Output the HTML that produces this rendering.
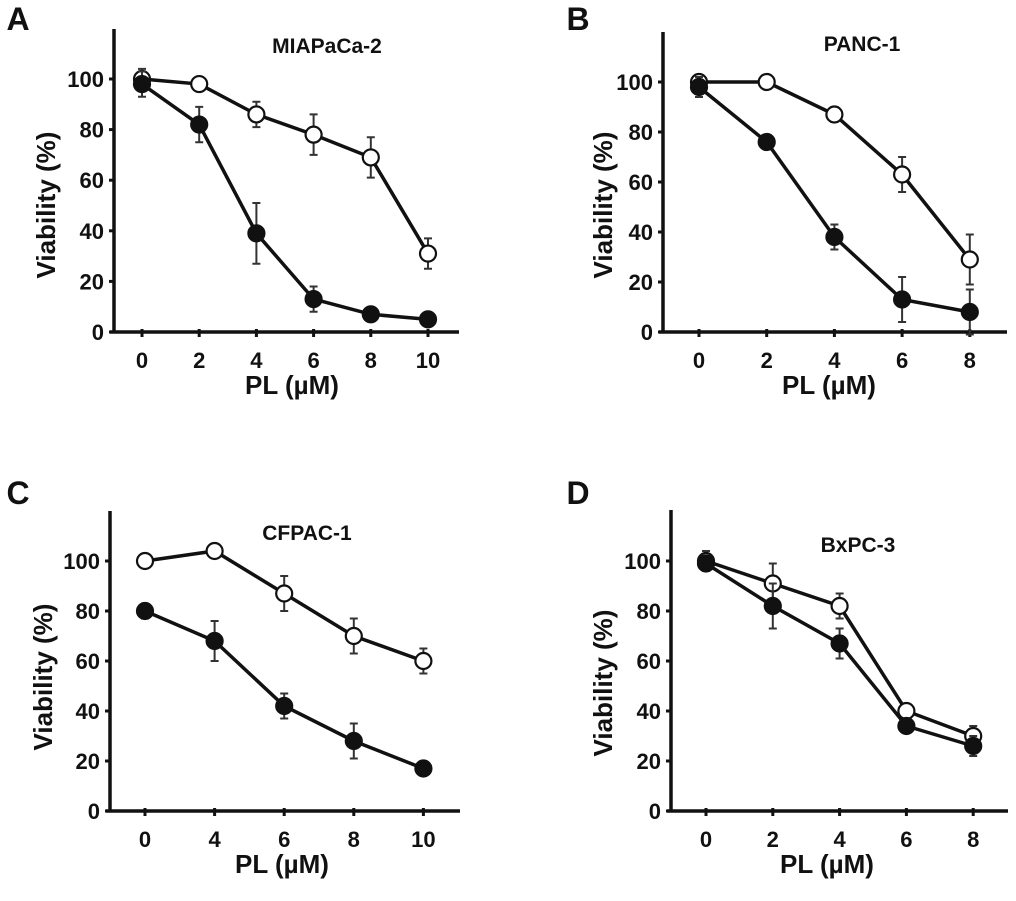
<!DOCTYPE html>
<html><head><meta charset="utf-8"><style>
body{margin:0;background:#fff;}
svg text{font-family:"Liberation Sans",Arial,sans-serif;font-weight:bold;fill:#111;}
</style></head><body>
<svg id="fig" width="1016" height="896" viewBox="0 0 1016 896" xmlns="http://www.w3.org/2000/svg"></svg>
<script>
// Panel A data
const catsA = ["0","2","4","6","8","10"];
const filledA = [98,82,39,13,7,5];
const filledErrA = [5,7,12,5,1,1];
const openA = [100,98,86,78,69,31];
const openErrA = [4,1,5,8,8,6];
// Panel B data
const catsB = ["0","2","4","6","8"];
const filledB = [98,76,38,13,8];
const filledErrB = [4,2,5,9,9];
const openB = [100,100,87,63,29];
const openErrB = [2,1,3,7,10];
// Panel C data
const catsC = ["0","4","6","8","10"];
const filledC = [80,68,42,28,17];
const filledErrC = [3,8,5,7,1];
const openC = [100,104,87,70,60];
const openErrC = [1,1,7,7,5];
// Panel D data
const catsD = ["0","2","4","6","8"];
const filledD = [99,82,67,34,26];
const filledErrD = [3,9,6,1,4];
const openD = [100,91,82,40,30];
const openErrD = [4,8,5,1,4];
const yTicks = [0,20,40,60,80,100];

const NS = "http://www.w3.org/2000/svg";
const svg = document.getElementById("fig");
function mk(tag, attrs, parent){
  const e = document.createElementNS(NS, tag);
  for (const k in attrs) e.setAttribute(k, attrs[k]);
  (parent||svg).appendChild(e);
  return e;
}
function panel(p){
  const g = mk("g", {});
  
  
  const yS = v => p.y0 - (p.y0 - p.y100) * v / 100;
  const xS = i => p.x0 + i * p.dx;
  const lab = mk("text", {x:p.lx, y:p.ly, "font-size":32, "text-anchor":"middle"}, g); lab.textContent = p.letter;
  
  
  const ya = mk("line", {x1:p.ax, y1:p.top, x2:p.ax, y2:p.y0, stroke:"#111","stroke-width":3.5}, g);
  
  
  const xa = mk("line", {x1:p.ax-4, y1:p.y0, x2:p.right, y2:p.y0, stroke:"#111","stroke-width":3.5}, g);
  
  
  yTicks.forEach(v => {
    mk("line", {x1:p.ax-5, y1:yS(v), x2:p.ax, y2:yS(v), stroke:"#111","stroke-width":3}, g);
    const t = mk("text", {x:p.ax-10, y:yS(v)+8, "font-size":22, "text-anchor":"end"}, g); t.textContent = v;
    
    
  });
  p.cats.forEach((c,i) => {
    mk("line", {x1:xS(i), y1:p.y0-3, x2:xS(i), y2:p.y0+5, stroke:"#111","stroke-width":3}, g);
    const t = mk("text", {x:xS(i), y:p.y0+36, "font-size":22, "text-anchor":"middle"}, g); t.textContent = c;
    
    
  });
  const tt = mk("text", {x:p.tx, y:p.ty, "font-size":21, "text-anchor":"middle"}, g); tt.textContent = p.title;
  
  
  const xt = mk("text", {x:p.xtx, y:p.y0+62, "font-size":26, "text-anchor":"middle"}, g); xt.textContent = "PL (\u00b5M)";
  
  
  const yt = mk("text", {x:0, y:0, "font-size":26, "text-anchor":"middle", transform:`translate(${p.ytx},${p.yty}) rotate(-90)`}, g); yt.textContent = "Viability (%)";
  
  
  [[p.open,p.openErr,"#fff","open"],[p.filled,p.filledErr,"#111","filled"]].forEach(([vals,errs,fill,nm]) => {
    const pts = vals.map((v,i)=>xS(i)+","+yS(v)).join(" ");
    const ln = mk("polyline", {points:pts, fill:"none", stroke:"#111", "stroke-width":3.5}, g);
    
    
    vals.forEach((v,i) => {
      const x = xS(i), y1 = yS(v+errs[i]), y2 = yS(v-errs[i]);
      const eb = mk("path", {d:`M${x},${y1}V${y2}M${x-4},${y1}H${x+4}M${x-4},${y2}H${x+4}`, stroke:"#333","stroke-width":2, fill:"none"}, g);
      
      
    });
    vals.forEach((v,i) => {
      const c = mk("circle", {cx:xS(i), cy:yS(v), r:8, fill:fill, stroke:"#111", "stroke-width":2.2}, g);
      
      
    });
  });
}
panel({letter:"A", lx:18, ly:30, ax:114, top:29, y0:332, y100:79, x0:142, dx:57.2, right:459, cats:catsA,
  filled:filledA, filledErr:filledErrA, open:openA, openErr:openErrA, title:"MIAPaCa-2", tx:327, ty:53, xtx:292, ytx:55, yty:205});
panel({letter:"B", lx:578, ly:30, ax:663, top:32, y0:332, y100:82, x0:699, dx:67.7, right:1007, cats:catsB,
  filled:filledB, filledErr:filledErrB, open:openB, openErr:openErrB, title:"PANC-1", tx:862, ty:51, xtx:829, ytx:612, yty:205});
panel({letter:"C", lx:18, ly:504, ax:110, top:511, y0:811, y100:561, x0:145, dx:69.6, right:460, cats:catsC,
  filled:filledC, filledErr:filledErrC, open:openC, openErr:openErrC, title:"CFPAC-1", tx:307, ty:540, xtx:282, ytx:52, yty:677});
panel({letter:"D", lx:578, ly:504, ax:671, top:510, y0:811, y100:561, x0:706, dx:66.8, right:1008, cats:catsD,
  filled:filledD, filledErr:filledErrD, open:openD, openErr:openErrD, title:"BxPC-3", tx:858, ty:552, xtx:827, ytx:612, yty:683});
</script>
</body></html>
